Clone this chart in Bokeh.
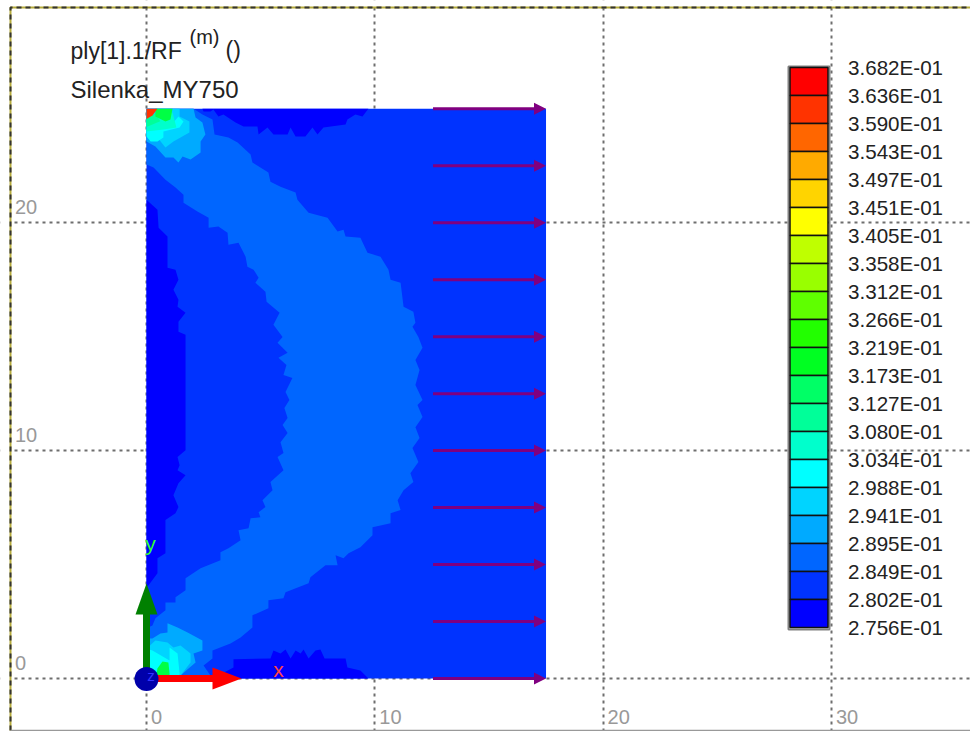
from bokeh.plotting import figure
from bokeh.models import FixedTicker, Range1d
from bokeh.core.properties import value
from bokeh.embed import file_html
from bokeh.resources import INLINE

legend_labels = ["3.682E-01","3.636E-01","3.590E-01","3.543E-01","3.497E-01","3.451E-01","3.405E-01",
                 "3.358E-01","3.312E-01","3.266E-01","3.219E-01","3.173E-01","3.127E-01","3.080E-01",
                 "3.034E-01","2.988E-01","2.941E-01","2.895E-01","2.849E-01","2.802E-01","2.756E-01"]
legend_colors = ["#FF0000","#FF3300","#FF6600","#FFAA00","#FFD400","#FFFF00","#BFFF00","#99FF00","#5FFF00","#22FF00",
                 "#00FF22","#00FF66","#00FF99","#00FFCC","#00FFFF","#00D4FF","#00AAFF","#0066FF","#0033FF","#0000FF"]

x_ticks = [0, 10, 20, 30]
y_ticks = [0, 10, 20]
plate_x = [0, 17.5, 17.5, 0]
plate_y = [0, 0, 25, 25]
load_y = [25, 22.5, 20, 17.5, 15, 12.5, 10, 7.5, 5, 2.5, 0]
load_x0 = 12.55
load_x1 = 17.5

outer_x = [2.06,2.45,2.89,2.98,3.59,3.99,4.56,4.64,5.34,5.43,5.87,6.53,6.61,7.10,7.93,8.37,8.63,8.72,9.37,9.68,10.25,10.60,10.69,11.13,11.26,11.69,11.78,11.65,11.91,12.09,11.78,11.96,11.78,12.09,11.87,12.09,11.78,11.96,11.65,11.91,11.56,11.69,11.26,11.0,11.13,10.69,10.69,9.90,9.90,9.37,8.85,8.63,8.28,8.37,7.84,7.18,7.10,6.09,6.00,5.34,5.34,4.64,4.64,4.12,3.68,2.89,2.89,2.50,2.80,2.58]
outer_y = [25,24.75,24.53,23.87,23.74,23.52,22.99,22.64,22.20,21.80,21.58,21.32,21.01,20.44,20.22,19.61,19.69,19.39,19.34,18.68,18.51,17.94,17.50,17.36,16.31,16.09,15.61,15.43,14.99,14.51,13.98,13.54,12.88,12.22,12.00,11.47,11.03,10.55,10.11,9.50,9.01,8.62,8.26,7.82,7.39,7.25,6.81,6.64,6.29,5.76,5.50,5.28,5.41,4.97,4.97,4.44,4.18,3.78,3.52,3.43,3.08,2.77,2.24,1.80,1.54,1.23,0.88,0.57,0.13,0]
inner_x = [0,0.31,0.83,1.27,1.62,1.62,2.23,2.72,2.72,3.15,3.55,3.59,4.03,4.34,4.42,4.69,4.91,4.77,5.21,5.26,5.83,5.56,5.96,5.74,6.18,5.78,6.13,6.00,6.39,6.09,6.26,6.04,6.18,5.96,6.18,5.87,6.00,5.74,6.00,5.43,5.52,5.08,5.21,4.91,4.99,4.56,4.47,4.03,4.12,3.59,3.24,3.24,2.37,1.71,1.71,1.27,1.27,0.83,0.83,0.39,0.26,0]
inner_y = [22.55,22.42,21.89,21.54,21.23,20.88,20.49,20.22,19.78,19.83,19.56,19.03,19.12,18.51,18.07,17.94,17.58,17.36,16.97,16.53,16.05,15.52,14.99,14.73,14.29,14.07,13.76,13.32,13.19,12.57,12.22,11.87,11.43,11.12,10.77,10.37,9.89,9.72,9.14,8.62,8.26,7.82,7.52,7.30,7.08,7.03,6.59,6.51,6.07,5.71,5.54,5.19,4.84,4.40,3.87,3.56,3.34,3.34,2.99,2.64,2.33,2.20]
left_x = [0,0.48,0.53,0.92,0.92,1.27,1.40,1.18,1.40,1.36,1.71,1.40,1.40,1.71,1.71,1.36,1.45,1.36,1.71,1.40,1.18,1.40,1.27,0.83,0.83,0.48,0.48,0.09,0]
left_y = [21.01,20.57,19.78,19.39,18.02,17.94,17.50,17.06,16.62,16.31,16.05,15.65,15.21,15.08,10.02,9.72,9.36,9.14,8.92,8.57,8.04,7.52,7.25,6.95,5.50,5.28,4.62,4.09,4.00]
top_x = [2.45,2.50,2.80,2.93,3.15,3.37,3.90,4.25,4.86,4.91,5.30,5.56,6.18,6.31,6.53,6.96,7.27,7.49,7.75,8.72,8.80,9.15,9.46,9.72]
top_y = [25,24.88,24.88,24.97,24.66,24.75,24.40,24.22,24.22,23.87,24.18,23.87,23.87,24.18,23.78,23.78,24.18,23.87,24.18,24.31,24.53,24.75,24.66,25]
bottom_x = [2.89,3.81,3.81,5.43,5.56,5.87,6.09,6.31,6.53,6.75,6.88,7.10,7.40,7.62,7.80,8.72,8.80,9.37,9.72]
bottom_y = [0,0.48,0.84,0.88,1.23,1.10,1.27,0.88,1.23,1.10,1.27,0.88,1.23,1.27,0.88,0.88,0.48,0.35,0]

tl_a_x = [0,1.45,2.06,2.15,2.45,2.58,2.37,2.37,1.93,1.58,1.40,1.18,0.83,0.39,0]
tl_a_y = [25,25,25,24.62,24.40,23.87,23.56,23.08,22.77,22.90,22.64,22.86,22.86,23.34,23.56]
tl_b_x = [0,1.14,1.45,1.45,1.88,1.88,1.49,1.18,0.83,0.48,0]
tl_b_y = [25,25,25,24.66,24.44,23.96,23.74,23.56,23.30,23.74,23.78]
tl_c_x = [0,0.18,1.18,1.40,1.62,1.45,0.74,0.74,0.48,0.18,0]
tl_c_y = [24.09,24.18,24.40,24.66,24.44,24.18,24.00,23.74,23.56,23.56,23.78]
tl_d_x = [0,0.39,1.14,1.31,0.74,0]
tl_d_y = [24.50,24.66,24.84,24.18,24.09,24.00]
tl_e_x = [0,0.40,0.60,0]
tl_e_y = [24.60,24.80,24.45,24.20]
tl_f_x = [0.39,1.14,1.05,0.83,0.39]
tl_f_y = [25,25,24.53,24.44,24.66]
tl_g_x = [0,0.48,0.26,0]
tl_g_y = [25,25,24.70,24.55]

bl_a_x = [0,0.26,0.61,0.92,0.92,1.36,1.80,2.45,2.45,2.06,2.15,1.84,1.49,1.36,0]
bl_a_y = [1.76,1.76,1.98,2.02,2.42,2.24,2.02,1.67,1.23,1.10,0.70,0.44,0.13,0,0]
bl_b_x = [0,0.39,0.92,1.18,1.49,1.93,1.93,1.49,1.40,0]
bl_b_y = [1.30,1.67,1.58,1.36,1.45,1.10,0.70,0.13,0,0]
bl_c_x = [0,0.26,1.01,1.01,1.36,1.45,1.40,0]
bl_c_y = [1.30,1.23,0.79,1.36,1.10,0.22,0,0]
bl_d_x = [0.48,0.70,0.96,1.01,1.00,0.40]
bl_d_y = [0.44,0.75,0.70,0.22,0,0]

SX, SY = 22.83, 22.79
def dx(px): return (px - 146.0) / SX
def dy(py): return (678.0 - py) / SY

p = figure(width=970, height=731, output_backend="svg", toolbar_location=None,
           x_range=Range1d(dx(0), dx(970)), y_range=Range1d(dy(731), dy(0)),
           min_border=0, min_border_left=0, min_border_right=0, min_border_top=0, min_border_bottom=0)
p.xaxis.visible = False
p.yaxis.visible = False
p.outline_line_color = None
p.background_fill_color = "#FFFFFF"
p.border_fill_color = "#FFFFFF"

p.xgrid.ticker = FixedTicker(ticks=x_ticks)
p.ygrid.ticker = FixedTicker(ticks=y_ticks)
for g in (p.xgrid, p.ygrid):
    g.grid_line_color = "#6E6E6E"
    g.grid_line_dash = "3 4"
    g.grid_line_width = 2

# outer frame and the white outside it
p.quad(left=dx(0), right=dx(10), top=dy(0), bottom=dy(731), fill_color="#FFFFFF", line_color=None)
p.quad(left=dx(0), right=dx(970), top=dy(0), bottom=dy(7), fill_color="#FFFFFF", line_color=None)
p.quad(left=dx(0), right=dx(970), top=dy(730), bottom=dy(731), fill_color="#FFFFFF", line_color=None)
fx = [dx(10), dx(10), dx(970)]
fy = [dy(730), dy(7), dy(7)]
p.line(fx, fy, line_color="#B5AB3A", line_width=2)
p.line(fx, fy, line_color="#333333", line_width=2, line_dash="5 4")
p.line([dx(10), dx(970)], [dy(730), dy(730)], line_color="#999999", line_width=1.5)

# contour fill
p.patch(plate_x, plate_y, fill_color="#0033FF", line_color=None)
p.patch(left_x, left_y, fill_color="#0000FF", line_color=None)
p.patch(top_x, top_y, fill_color="#0000FF", line_color=None)
p.patch(bottom_x, bottom_y, fill_color="#0000FF", line_color=None)
band_x = outer_x + [0] + inner_x[::-1] + [0]
band_y = outer_y + [0] + inner_y[::-1] + [25]
p.patch(band_x, band_y, fill_color="#0066FF", line_color=None)
zones = [(tl_a_x, tl_a_y, "#00AAFF"), (tl_b_x, tl_b_y, "#00D4FF"), (tl_c_x, tl_c_y, "#00FFFF"),
         (tl_d_x, tl_d_y, "#00FFCC"), (tl_e_x, tl_e_y, "#00FF99"), (tl_f_x, tl_f_y, "#00FF44"), (tl_g_x, tl_g_y, "#FF3300"),
         (bl_a_x, bl_a_y, "#00AAFF"), (bl_b_x, bl_b_y, "#00D4FF"), (bl_c_x, bl_c_y, "#00FFFF"), (bl_d_x, bl_d_y, "#00FF44")]
for zx, zy, zc in zones:
    p.patch(zx, zy, fill_color=zc, line_color=None)

# load arrows
hl, hw = 12 / SX, 6 / SY
for yv in load_y:
    p.line([load_x0, load_x1 - hl], [yv, yv], line_color="#800080", line_width=3)
    p.patch([load_x1 - hl, load_x1, load_x1 - hl], [yv + hw, yv, yv - hw], fill_color="#800080", line_color=None)

# triad
p.line([0, 0], [0, dy(612)], line_color="#008000", line_width=7)
p.patch([dx(135), dx(157), dx(146)], [dy(614), dy(614), dy(583)], fill_color="#008000", line_color=None)
p.line([0, dx(214)], [0, 0], line_color="#FF0000", line_width=7)
p.patch([dx(212), dx(241), dx(212)], [dy(667), dy(678), dy(689)], fill_color="#FF0000", line_color=None)
p.scatter([0], [dy(678.5)], size=24, marker="circle", fill_color="#0000AA", line_color=None)

def txt(x, y, s, size, color, align="left", base="alphabetic"):
    p.text([x], [y], text=[s], text_font=value("Liberation Sans"), text_font_size=size, text_color=color,
           text_align=align, text_baseline=base)

txt(dx(150.5), dy(675), "z", "15px", "#3333FF", "center", "middle")
txt(dx(150), dy(543), "y", "21px", "#33FF33", "center", "middle")
txt(dx(278), dy(669), "x", "21px", "#FF4444", "center", "middle")

# titles
txt(dx(70), dy(50), "ply[1].1/RF", "23px", "#222222")
txt(dx(189), dy(36), "(m)", "20px", "#222222")
txt(dx(225), dy(49), "()", "23px", "#222222")
txt(dx(70), dy(89), "Silenka_MY750", "24px", "#222222")

# tick labels
for v in y_ticks:
    txt(dx(14.5), v + 16 / SY, str(v), "20px", "#999999")
for v in x_ticks:
    txt(v + 4.5 / SX, dy(716), str(v), "20px", "#999999")

# legend
n = len(legend_colors)
top = [dy(67 + 28 * i) for i in range(n)]
bot = [dy(67 + 28 * (i + 1)) for i in range(n)]
p.quad(left=dx(788), right=dx(829), top=dy(66), bottom=dy(629), fill_color=None, line_color="#808080", line_width=2)
p.quad(left=[dx(789.5)] * n, right=[dx(827.5)] * n, top=top, bottom=bot, fill_color=legend_colors,
       line_color="#111111", line_width=1.5)
p.text([dx(847.5)] * len(legend_labels), [dy(66.5 + 28 * i) for i in range(len(legend_labels))], text=legend_labels,
       text_font=value("Liberation Sans"), text_font_size="20.6px", text_color="#222222",
       text_align="left", text_baseline="middle")

open("out.html", "w").write(file_html(p, INLINE))
